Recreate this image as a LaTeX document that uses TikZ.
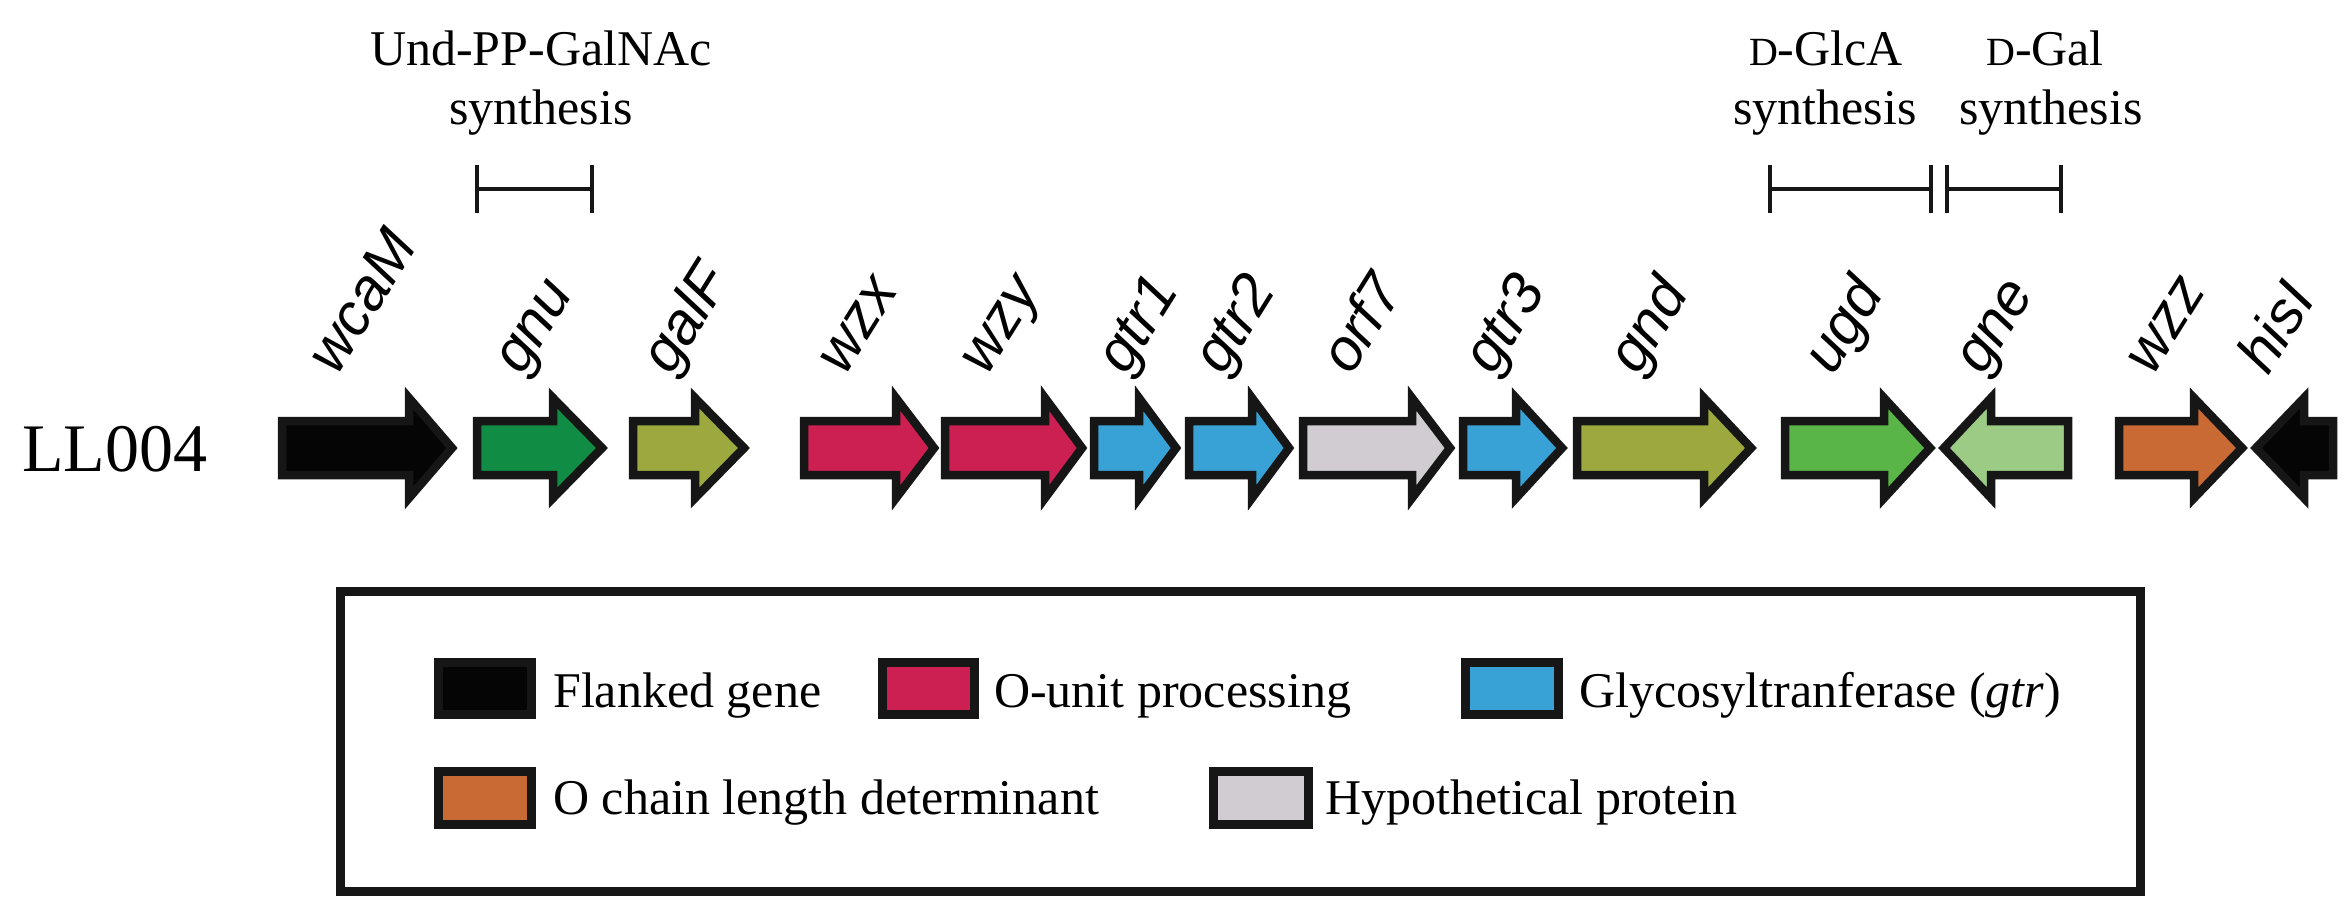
\documentclass[tikz,border=0pt]{standalone}
\usepackage{fontspec}
\setmainfont{Liberation Serif}
\newfontfamily\labelfont{Liberation Sans}
\definecolor{strokecol}{RGB}{22,22,22}
\definecolor{cblack}{RGB}{5,5,5}
\definecolor{cgnu}{RGB}{16,140,68}
\definecolor{colive}{RGB}{157,168,62}
\definecolor{ccrimson}{RGB}{204,32,82}
\definecolor{cblue}{RGB}{56,162,214}
\definecolor{cgray}{RGB}{208,204,210}
\definecolor{cugd}{RGB}{90,181,72}
\definecolor{cgne}{RGB}{156,203,134}
\definecolor{corange}{RGB}{201,106,52}
\tikzset{
  gene/.style={draw=strokecol, line width=8.5pt, line join=miter, miter limit=10},
  genelabel/.style={font=\labelfont\itshape\fontsize{59}{59}\selectfont, rotate=58, anchor=base west, inner sep=0pt},
  annot/.style={font=\fontsize{50}{59}\selectfont, anchor=base, inner sep=0pt},
  bracket/.style={draw=strokecol, line width=4.5pt},
  legtext/.style={font=\fontsize{50}{59}\selectfont, anchor=base west, inner sep=0pt},
  swatch/.style={draw=strokecol, line width=9pt},
  legbox/.style={draw=strokecol, line width=9pt}
}
% forward gene: left, head base, tip, colour, name
\newcommand\fwdgene[5]{%
  \path[gene, fill=#4] (#1,-421) -- (#2,-421) -- (#2,-398) -- (#3,-448) coordinate (#5tip)
    -- (#2,-498) -- (#2,-475) -- (#1,-475) -- cycle;
  \coordinate (#5) at ({(#1+#3)/2},-448);}
% reverse gene: tip, head base, right, colour, name
\newcommand\revgene[5]{%
  \path[gene, fill=#4] (#1,-448) coordinate (#5tip) -- (#2,-398) -- (#2,-421) -- (#3,-421)
    -- (#3,-475) -- (#2,-475) -- (#2,-498) -- cycle;
  \coordinate (#5) at ({(#1+#3)/2},-448);}
\begin{document}
\begin{tikzpicture}[x=1pt,y=1pt]
\useasboundingbox (0,0) rectangle (2351,-920);

% strain name
\node[font=\fontsize{68}{68}\selectfont, anchor=base west, inner sep=0pt] (strain) at (22,-471) {LL004};

% genes
\fwdgene{282}{409}{452}{cblack}{gwcaM}
\fwdgene{477}{553}{602}{cgnu}{ggnu}
\fwdgene{633}{695}{744}{colive}{ggalF}
\fwdgene{804}{896}{934}{ccrimson}{gwzx}
\fwdgene{945}{1045}{1082}{ccrimson}{gwzy}
\fwdgene{1094}{1139}{1176}{cblue}{ggtrA}
\fwdgene{1189}{1252}{1289}{cblue}{ggtrB}
\fwdgene{1303}{1412}{1450}{cgray}{gorf}
\fwdgene{1463}{1516}{1562}{cblue}{ggtrC}
\fwdgene{1577}{1704}{1751}{colive}{ggnd}
\fwdgene{1785}{1884}{1930}{cugd}{gugd}
\revgene{1944}{1991}{2068}{cgne}{ggne}
\fwdgene{2119}{2194}{2242}{corange}{gwzz}
\revgene{2256}{2304}{2333}{cblack}{ghisI}

% gene labels
\node[genelabel] (lwcaM) at (337,-377) {wcaM};
\node[genelabel] (lgnu)  at (522,-377) {gnu};
\node[genelabel] (lgalF) at (671,-377) {galF};
\node[genelabel] (lwzx)  at (845,-377) {wzx};
\node[genelabel] (lwzy)  at (987,-377) {wzy};
\node[genelabel] (lgtrA) at (1126,-377) {gtr1};
\node[genelabel] (lgtrB) at (1223,-377) {gtr2};
\node[genelabel] (lorf)  at (1351,-377) {orf7};
\node[genelabel] (lgtrC) at (1493,-377) {gtr3};
\node[genelabel] (lgnd)  at (1638,-377) {gnd};
\node[genelabel] (lugd)  at (1833,-377) {ugd};
\node[genelabel] (lgne)  at (1983,-377) {gne};
\node[genelabel] (lwzz)  at (2153,-377) {wzz};
\node[genelabel] (lhisI) at (2268,-377) {hisI};

% annotations
\node[annot] (undA) at (541,-66) {Und-PP-GalNAc};
\node[annot] (undB) at (541,-125) {synthesis};
\node[annot] (glcA) at (1826,-66) {{\fontsize{40}{40}\selectfont D}-GlcA};
\node[annot] (glcB) at (1825,-125) {synthesis};
\node[annot] (galA) at (2045,-66) {{\fontsize{40}{40}\selectfont D}-Gal};
\node[annot] (galB) at (2051,-125) {synthesis};

% brackets
\coordinate (b1l) at (477,-189); \coordinate (b1r) at (592,-189);
\coordinate (b2l) at (1770,-189); \coordinate (b2r) at (1931,-189);
\coordinate (b3l) at (1947,-189); \coordinate (b3r) at (2061,-189);
\foreach \a/\b in {b1l/b1r, b2l/b2r, b3l/b3r}{
  \draw[bracket] (\a) -- (\b);
  \draw[bracket] ([yshift=24pt]\a) -- ([yshift=-24pt]\a);
  \draw[bracket] ([yshift=24pt]\b) -- ([yshift=-24pt]\b);
}

% legend
\node[legbox, minimum width=1800pt, minimum height=300pt, inner sep=0pt] (legend) at (1240.5,-741.5) {};
\path[swatch, fill=cblack]   (438.5,-662.5) rectangle (531.5,-714.5) coordinate (sw1);
\path[swatch, fill=ccrimson] (882.5,-662.5) rectangle (974.5,-714.5) coordinate (sw2);
\path[swatch, fill=cblue]    (1465.5,-662.5) rectangle (1558.5,-714.5) coordinate (sw3);
\path[swatch, fill=corange]  (438.5,-771.5) rectangle (531.5,-824.5) coordinate (sw4);
\path[swatch, fill=cgray]    (1213.5,-771.5) rectangle (1308.5,-824.5) coordinate (sw5);
\node[legtext] (t1) at (553,-707) {Flanked gene};
\node[legtext] (t2) at (994,-707) {O-unit processing};
\node[legtext] (t3) at (1579,-707) {Glycosyltranferase (\textit{gtr})};
\node[legtext] (t4) at (553,-814) {O chain length determinant};
\node[legtext] (t5) at (1325,-814) {Hypothetical protein};
\end{tikzpicture}
\end{document}
